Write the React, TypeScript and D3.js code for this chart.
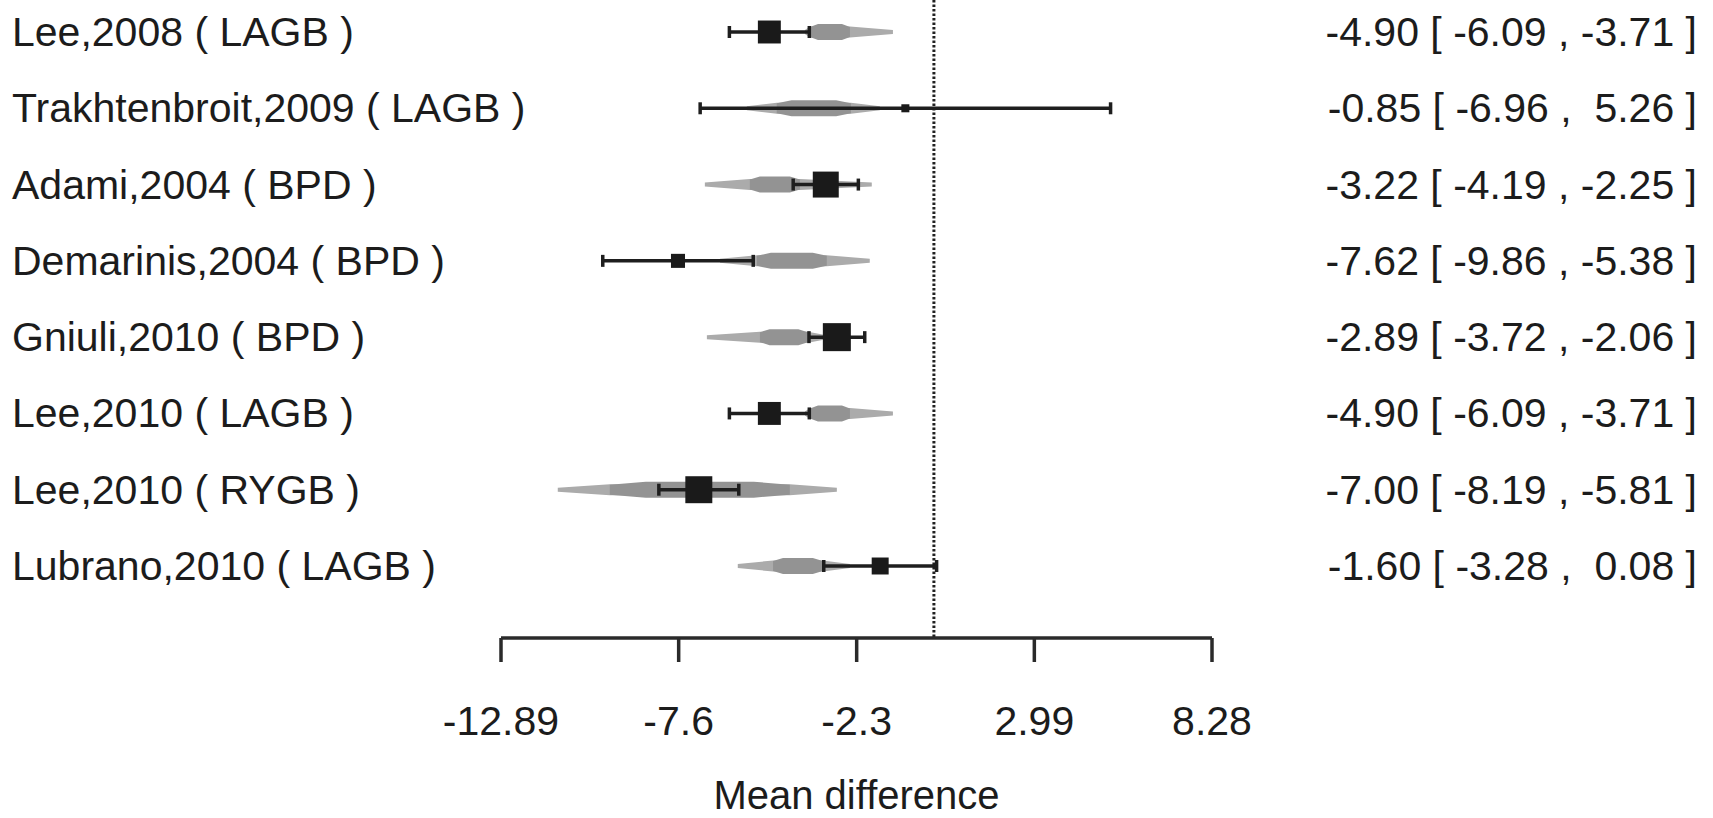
import React from "react";
import * as d3 from "d3";

const studies = [
  "Lee,2008 ( LAGB )",
  "Trakhtenbroit,2009 ( LAGB )",
  "Adami,2004 ( BPD )",
  "Demarinis,2004 ( BPD )",
  "Gniuli,2010 ( BPD )",
  "Lee,2010 ( LAGB )",
  "Lee,2010 ( RYGB )",
  "Lubrano,2010 ( LAGB )",
];
const estimates = [-4.9, -0.85, -3.22, -7.62, -2.89, -4.9, -7.0, -1.6];
const ciLower = [-6.09, -6.96, -4.19, -9.86, -3.72, -6.09, -8.19, -3.28];
const ciUpper = [-3.71, 5.26, -2.25, -5.38, -2.06, -3.71, -5.81, 0.08];
const weights = [13.9, 1.7, 17.8, 5.2, 20.7, 13.9, 19.2, 7.6];

// grey distribution outlines
const grayLo = [-3.84, -5.57, -6.82, -6.37, -6.76, -3.84, -11.2, -5.84];
const grayCoreLo = [-3.69, -4.68, -5.48, -5.27, -5.18, -3.69, -9.65, -4.79];
const grayCoreHi = [-2.5, -2.47, -3.99, -3.19, -3.75, -2.5, -4.29, -3.31];
const grayHi = [-1.22, -1.61, -1.85, -1.91, -3.2, -1.22, -2.89, -2.5];

const tickValues = [-12.89, -7.6, -2.3, 2.99, 8.28];
const tickLabels = ["-12.89", "-7.6", "-2.3", "2.99", "8.28"];
const xLabel = "Mean difference";

const W = 1713;
const H = 818;
const FONT = "'Liberation Sans', Arial, Helvetica, sans-serif";
const TEXT = "#1c1c1c";

const fmt = (v: number) => (v < 0 ? "" : " ") + v.toFixed(2);

export default function App() {
  const x = d3.scaleLinear().domain([-12.89, 8.28]).range([501, 1212]);
  const y = d3.scaleLinear().domain([0, studies.length - 1]).range([32, 566]);
  const size = d3.scaleSqrt().domain([0, d3.max(weights) as number]).range([0, 28]);
  const axisY = 638;

  const area = d3
    .area<[number, number]>()
    .x((d) => x(d[0]))
    .y0((d) => -d[1])
    .y1((d) => d[1])
    .curve(d3.curveLinear);

  return (
    <div style={{ position: "fixed", left: 0, top: 0, width: W, height: H, background: "#fff" }}>
      <svg width={W} height={H} style={{ display: "block" }}>
        <rect width={W} height={H} fill="#fff" />
        {/* reference line at 0 */}
        <line
          x1={x(0)}
          x2={x(0)}
          y1={0}
          y2={axisY}
          stroke="#222"
          strokeWidth={3}
          strokeDasharray="2.5 2"
        />
        {studies.map((s, i) => {
          const cy = y(i);
          const lo = grayLo[i];
          const cl = grayCoreLo[i];
          const ch = grayCoreHi[i];
          const hi = grayHi[i];
          const q = (ch - cl) * 0.2;
          const outer: [number, number][] = [
            [lo, 2],
            [cl, 5.5],
            [ch, 5.5],
            [hi, 2],
          ];
          const inner: [number, number][] = [
            [cl, 5],
            [cl + q, 8],
            [ch - q, 8],
            [ch, 5],
          ];
          const bs = size(weights[i]);
          return (
            <g key={s}>
              <g transform={`translate(0,${cy})`}>
                <path d={area(outer) || ""} fill="#ababab" />
                <path d={area(inner) || ""} fill="#939393" />
                <line x1={x(ciLower[i])} x2={x(ciUpper[i])} y1={0} y2={0} stroke="#1e1e1e" strokeWidth={3.5} />
                <line x1={x(ciLower[i])} x2={x(ciLower[i])} y1={-6} y2={6} stroke="#1e1e1e" strokeWidth={3.5} />
                <line x1={x(ciUpper[i])} x2={x(ciUpper[i])} y1={-6} y2={6} stroke="#1e1e1e" strokeWidth={3.5} />
                <rect x={x(estimates[i]) - bs / 2} y={-bs / 2} width={bs} height={bs} fill="#1a1a1a" />
              </g>
              <text x={12} y={cy + 14} fontFamily={FONT} fontSize={41} fill={TEXT}>
                {s}
              </text>
              <text
                x={1697}
                y={cy + 14}
                fontFamily={FONT}
                fontSize={41}
                fill={TEXT}
                textAnchor="end"
                style={{ whiteSpace: "pre" }}
              >
                {`${fmt(estimates[i])} [ ${fmt(ciLower[i])} , ${fmt(ciUpper[i])} ]`}
              </text>
            </g>
          );
        })}
        {/* x axis */}
        <line x1={x(tickValues[0])} x2={x(tickValues[tickValues.length - 1])} y1={axisY} y2={axisY} stroke="#2a2a2a" strokeWidth={3.5} />
        {tickValues.map((t, i) => (
          <g key={t}>
            <line x1={x(t)} x2={x(t)} y1={axisY} y2={axisY + 24} stroke="#2a2a2a" strokeWidth={3.5} />
            <text x={x(t)} y={735} textAnchor="middle" fontFamily={FONT} fontSize={41} fill={TEXT}>
              {tickLabels[i]}
            </text>
          </g>
        ))}
        <text
          x={(x(tickValues[0]) + x(tickValues[tickValues.length - 1])) / 2}
          y={809}
          textAnchor="middle"
          fontFamily={FONT}
          fontSize={40}
          fill={TEXT}
        >
          {xLabel}
        </text>
      </svg>
    </div>
  );
}
